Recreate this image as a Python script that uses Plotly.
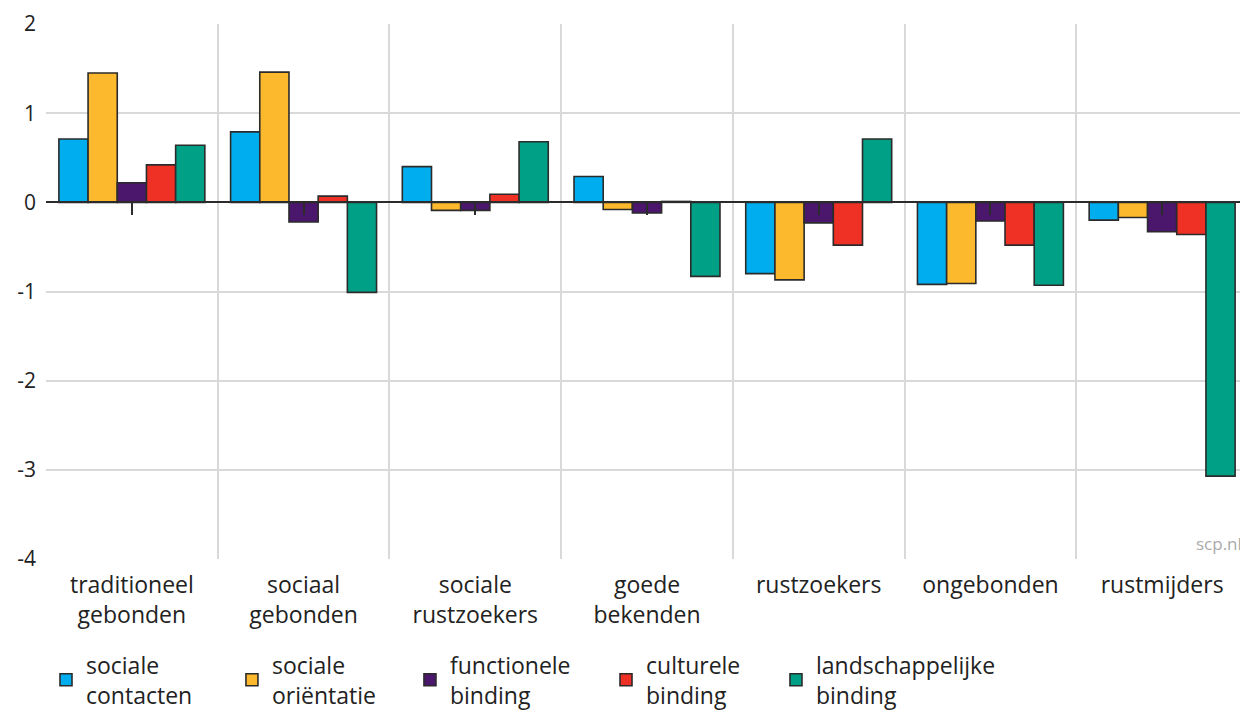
import plotly.graph_objects as go

categories = ["traditioneel<br>gebonden", "sociaal<br>gebonden", "sociale<br>rustzoekers",
              "goede<br>bekenden", "rustzoekers", "ongebonden", "rustmijders"]
series_names = ["sociale<br>contacten", "sociale<br>oriëntatie", "functionele<br>binding",
                "culturele<br>binding", "landschappelijke<br>binding"]
sociale_contacten = [0.71, 0.79, 0.40, 0.29, -0.80, -0.92, -0.20]
sociale_orientatie = [1.45, 1.46, -0.09, -0.08, -0.87, -0.91, -0.17]
functionele_binding = [0.22, -0.22, -0.09, -0.12, -0.23, -0.21, -0.33]
culturele_binding = [0.42, 0.07, 0.09, 0.01, -0.48, -0.48, -0.36]
landschappelijke_binding = [0.64, -1.01, 0.68, -0.83, 0.71, -0.93, -3.07]
colors = ["#00AEEF", "#FDB92E", "#4A176D", "#EE3124", "#00A087"]
y_ticks = [2, 1, 0, -1, -2, -3, -4]
y_tick_labels = ["2", "1", "0", "-1", "-2", "-3", "-4"]

values = [sociale_contacten, sociale_orientatie, functionele_binding,
          culturele_binding, landschappelijke_binding]

FONT = "Open Sans"
LEGEND_X = [0.0, 0.1547, 0.3028, 0.4659, 0.6073]
legend_ids = ["legend", "legend2", "legend3", "legend4", "legend5"]

fig = go.Figure()
for name, vals, col, lid in zip(series_names, values, colors, legend_ids):
    fig.add_trace(go.Bar(x=categories, y=vals, name=name, legend=lid,
                         marker=dict(color=col, line=dict(color="#2b2b2b", width=1.6))))

# dummy trace to hold the zero-line axis with centre ticks
fig.add_trace(go.Scatter(x=categories, y=[None] * len(categories), xaxis="x2",
                         showlegend=False, hoverinfo="skip"))

ymin, ymax = -4, 2
legend_common = dict(orientation="h", xanchor="left", yref="container", y=0.095,
                     yanchor="top", font=dict(size=23, color="#222222"),
                     bgcolor="rgba(0,0,0,0)")
layout_legends = {lid: dict(x=lx, **legend_common) for lid, lx in zip(legend_ids, LEGEND_X)}

fig.update_layout(
    width=1240, height=702,
    margin=dict(l=38, r=0, t=16, b=151),
    paper_bgcolor="white", plot_bgcolor="white",
    barmode="group", bargap=0.15, bargroupgap=0,
    font=dict(family=FONT, size=23, color="#222222"),
    xaxis=dict(type="category", tickson="boundaries", showgrid=True,
               gridcolor="#d9d9d9", gridwidth=1.5, ticks="", showline=False,
               tickfont=dict(size=23, color="#222222"), ticklabelstandoff=10,
               range=[-0.5, 6.5]),
    xaxis2=dict(type="category", overlaying="x", anchor="free",
                position=(0 - ymin) / (ymax - ymin), showgrid=False,
                showline=True, linecolor="#2b2b2b", linewidth=1.5,
                ticks="outside", ticklen=12, tickcolor="#2b2b2b", tickwidth=1.5,
                showticklabels=False, range=[-0.5, 6.5]),
    yaxis=dict(range=[ymin, ymax], tickvals=y_ticks, ticktext=y_tick_labels,
               showgrid=True, gridcolor="#d9d9d9", gridwidth=1.5, zeroline=False,
               tickfont=dict(size=21, color="#222222"), ticklabelstandoff=9),
    showlegend=True,
    annotations=[dict(text="scp.nl", x=1, y=0, xref="paper", yref="paper",
                      xanchor="right", yanchor="bottom", xshift=-4, yshift=2,
                      showarrow=False, font=dict(size=17, color="#aaaaaa"))],
    **layout_legends,
)

fig.write_html("out.html")
